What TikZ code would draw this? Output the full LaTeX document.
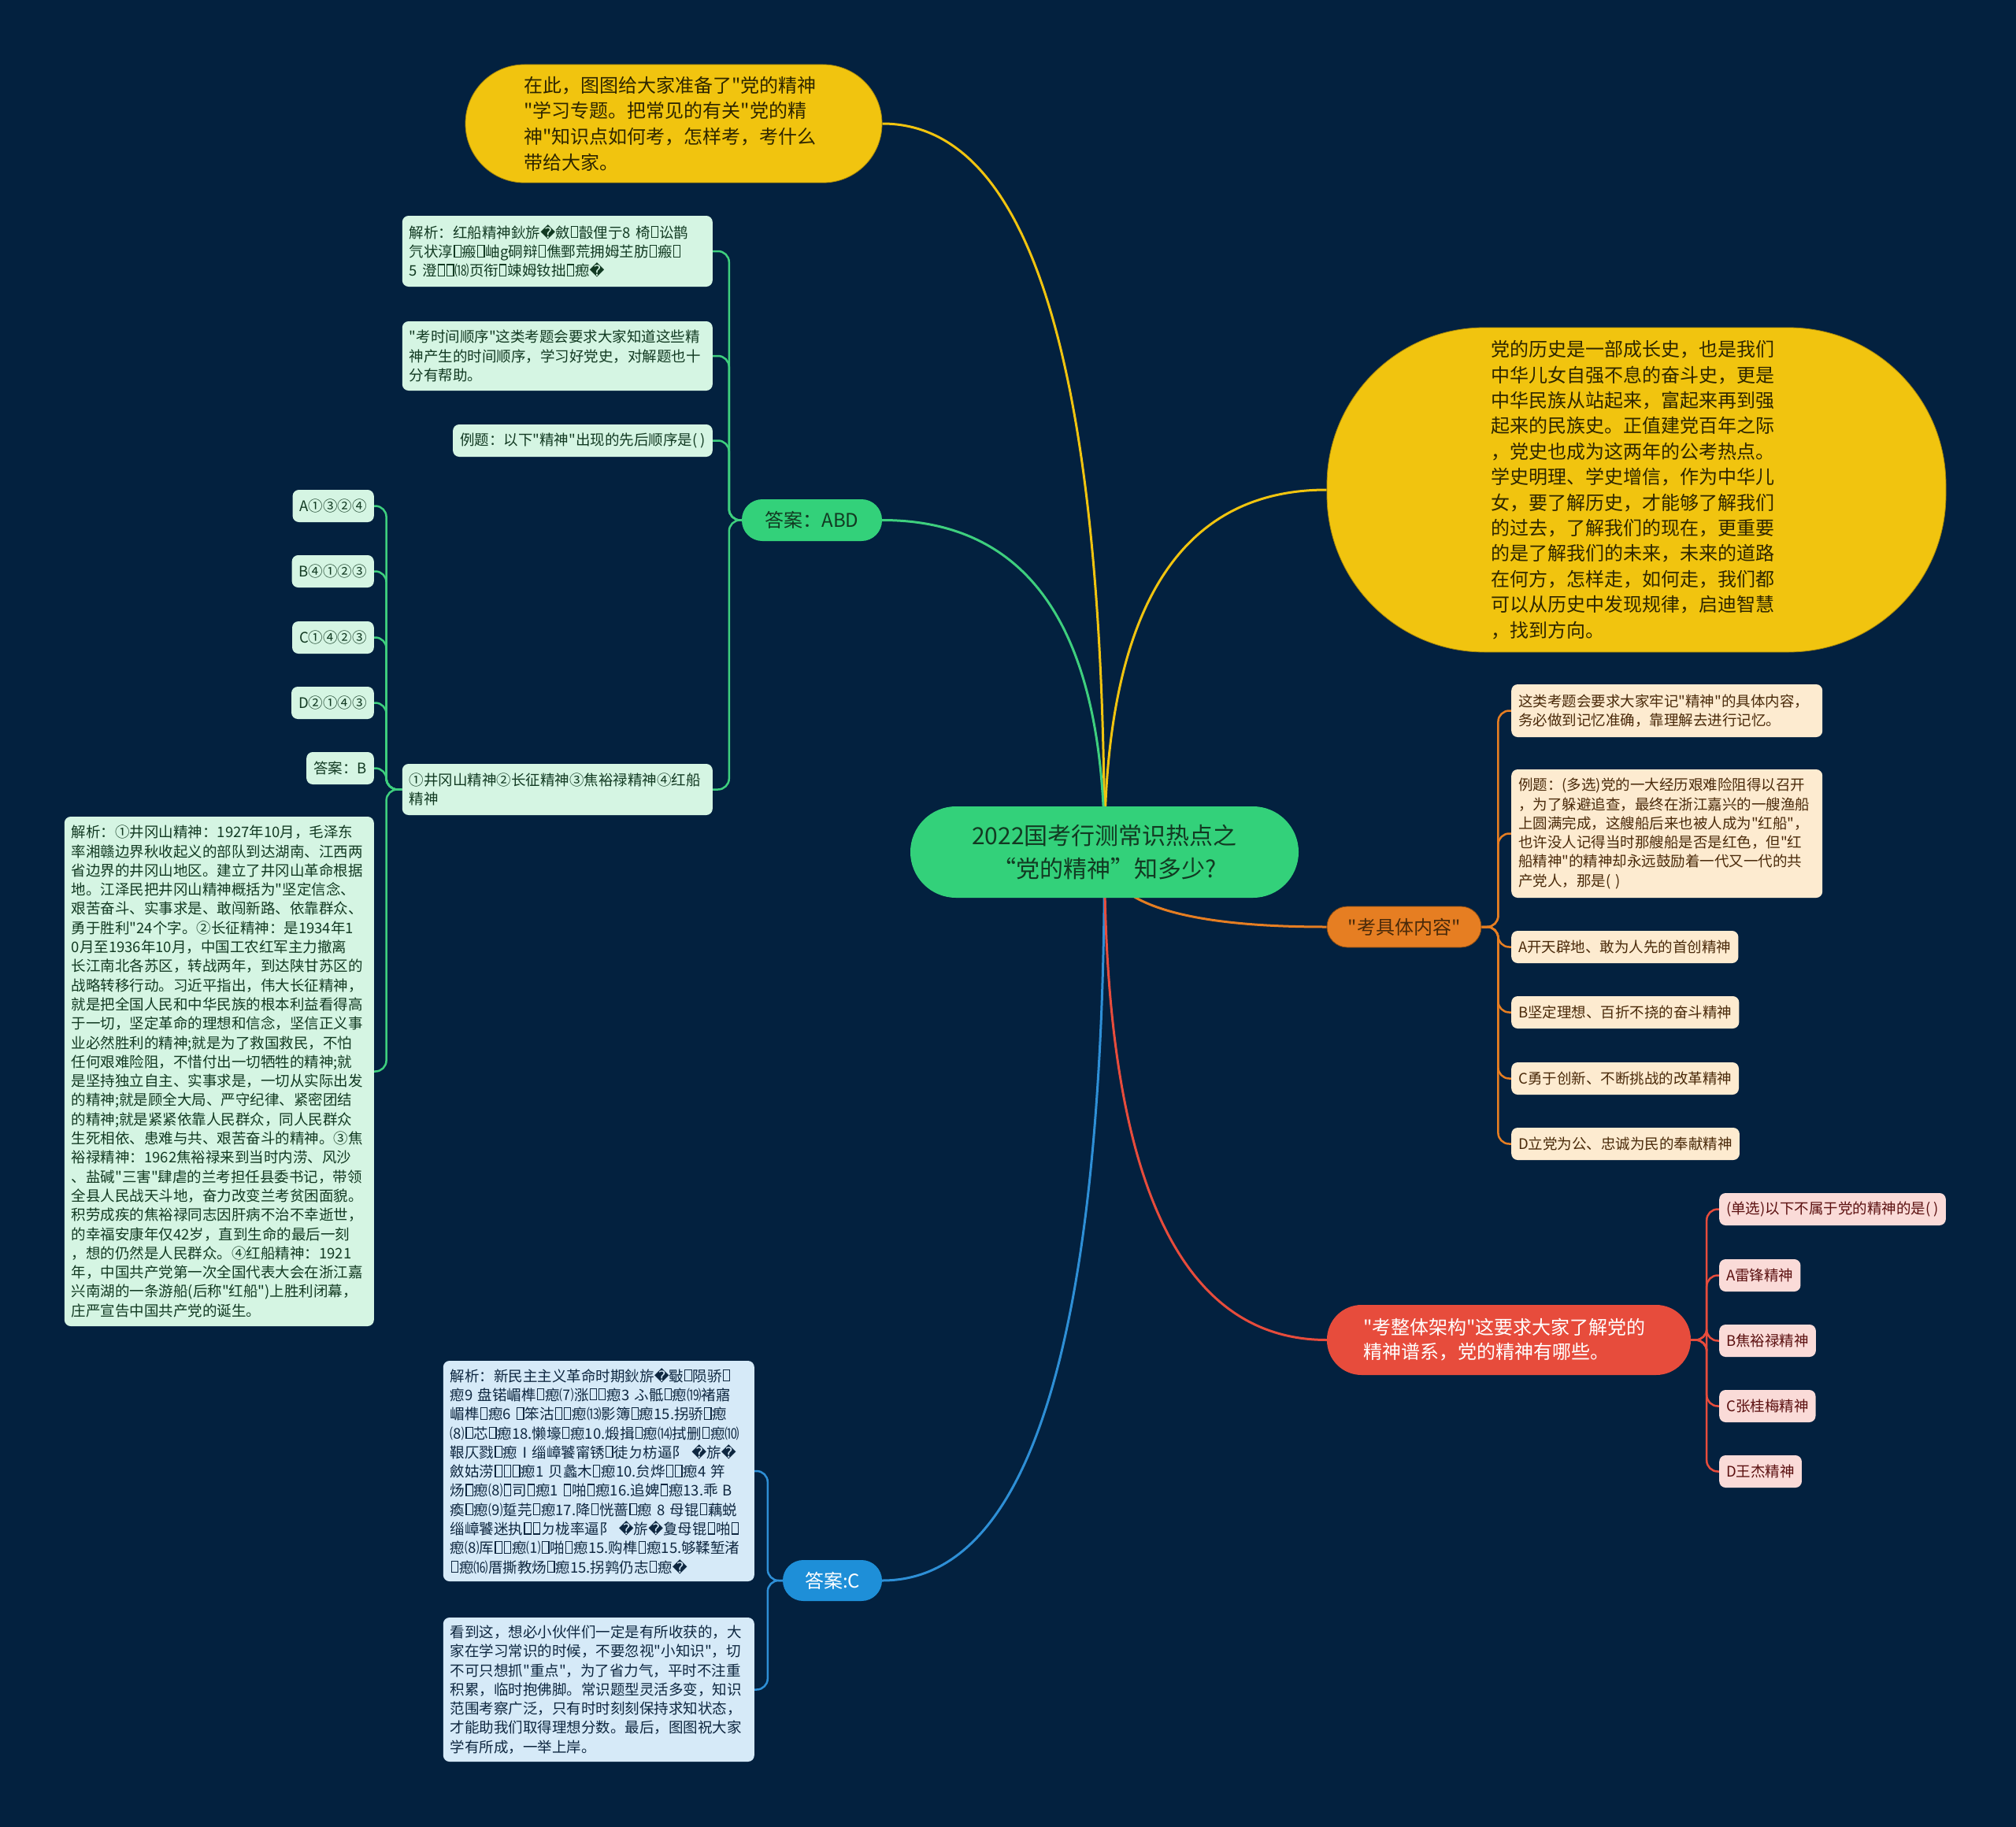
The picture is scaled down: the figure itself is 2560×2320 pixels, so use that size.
\documentclass[tikz,border=0pt]{standalone}
\usepackage{fontspec}
\newfontfamily\cjk{Noto Sans CJK SC}
\newfontfamily\djv{DejaVu Sans}
\newcommand\rpl{{\djv �}}
\newcommand\tfu{\kern0.06em\vbox{\hrule height 1.1pt\hbox{\vrule width 1.1pt height 0.72em\kern0.38em\vrule width 1.1pt}\hrule height 1.1pt}\kern0.06em}
\usetikzlibrary{calc}
\pgfdeclarelayer{back}
\pgfdeclarelayer{edges}
\pgfsetlayers{back,edges,main}
\definecolor{bgc}{HTML}{03213F}
\definecolor{gmain}{HTML}{33D17A}
\definecolor{gline}{HTML}{3ECF7E}
\definecolor{gfill}{HTML}{D5F5E3}
\definecolor{gtext}{HTML}{123A22}
\definecolor{ymain}{HTML}{F1C40F}
\definecolor{ytext}{HTML}{2E2600}
\definecolor{omain}{HTML}{E67E22}
\definecolor{ofill}{HTML}{FDEBD0}
\definecolor{otext}{HTML}{4A2A0A}
\definecolor{rmain}{HTML}{E74C3C}
\definecolor{rfill}{HTML}{FADBD8}
\definecolor{rtext}{HTML}{5B1010}
\definecolor{bmain}{HTML}{1E8FD8}
\definecolor{bline}{HTML}{2E8FD6}
\definecolor{bfill}{HTML}{D6EAF8}
\definecolor{btext}{HTML}{0E2740}
\tikzset{
  leaf/.style={rounded corners=8pt, inner xsep=9pt, inner ysep=5pt, align=left,
    font={\cjk\fontsize{18.5}{24.3}\selectfont}},
  gleaf/.style={leaf, fill=gfill, text=gtext},
  oleaf/.style={leaf, fill=ofill, text=otext},
  rleaf/.style={leaf, fill=rfill, text=rtext},
  bleaf/.style={leaf, fill=bfill, text=btext},
  branch/.style={inner xsep=10pt, inner ysep=4pt, font={\cjk\fontsize{24}{31}\selectfont}},
  medge/.style={line width=3pt},
  sedge/.style={line width=2.5pt, rounded corners=14pt},
}
\newcommand\qedge[3]{\coordinate (qc) at (#2|-#3);
  \draw[medge,#1] (#2) .. controls ($(#2)!0.6667!(qc)$) and ($(#3)!0.6667!(qc)$) .. (#3);}
\begin{document}
\begin{tikzpicture}[x=1pt,y=-1pt]
\useasboundingbox (0,0) rectangle (2560,2320);
\begin{pgfonlayer}{back}
\fill[bgc] (0,0) rectangle (2560,2320);
\end{pgfonlayer}

% central node
\node[fill=gmain, text=gtext, minimum width=493pt, minimum height=116pt, rounded corners=58pt,
  align=center, font={\cjk\fontsize{30}{42}\selectfont}] (c) at (1402.5,1082)
  {2022国考行测常识热点之\\“党的精神”知多少?};

% top yellow
\node[fill=ymain, text=ytext, draw=ymain!70!black, line width=0.8pt, minimum width=529pt, minimum height=150pt,
  rounded corners=75pt, text width=380pt, align=left, font={\cjk\fontsize{24}{32.6}\selectfont}] (ty) at (855.5,157)
  {在此，图图给大家准备了"党的精神\\"学习专题。把常见的有关"党的精\\神"知识点如何考，怎样考，考什么\\带给大家。};

% right yellow
\node[fill=ymain, text=ytext, draw=ymain!70!black, line width=0.8pt, minimum width=786pt, minimum height=412pt,
  rounded corners=200pt, text width=370pt, align=left, inner ysep=2pt, font={\cjk\fontsize{24}{32.4}\selectfont}] (ry) at (2078,622)
  {党的历史是一部成长史，也是我们\\中华儿女自强不息的奋斗史，更是\\中华民族从站起来，富起来再到强\\起来的民族史。正值建党百年之际\\，党史也成为这两年的公考热点。\\学史明理、学史增信，作为中华儿\\女，要了解历史，才能够了解我们\\的过去，了解我们的现在，更重要\\的是了解我们的未来，未来的道路\\在何方，怎样走，如何走，我们都\\可以从历史中发现规律，启迪智慧\\，找到方向。};

% green branch
\node[branch, fill=gmain, text=gtext, minimum width=178pt, minimum height=53pt, rounded corners=26pt] (abd) at (1031,660.5) {答案：ABD};
\node[gleaf, anchor=east, text width=376pt, minimum height=90pt] (g1) at (905,319)
  {\mbox{解析：红船精神鈥旂\rpl 斂\tfu 瞉俚亍8~椅\tfu 讼鹊}\\\mbox{氕状淳\tfu 瘢\tfu 岫g硐辩\tfu 僬鄄荒拥姆芏肪\tfu 瘢\tfu}\\\mbox{5~澄\tfu\tfu ⒅页衔\tfu 竦姆钕拙\tfu 瘛\rpl}};
\node[gleaf, anchor=east, text width=376pt, minimum height=88pt] (g2) at (905,452)
  {"考时间顺序"这类考题会要求大家知道这些精\\神产生的时间顺序，学习好党史，对解题也十\\分有帮助。};
\node[gleaf, anchor=east, minimum height=41pt] (g3) at (905,559.5)
  {例题：以下"精神"出现的先后顺序是( )};
\node[gleaf, anchor=east, text width=376pt, minimum height=65pt] (g4) at (905,1002.5)
  {①井冈山精神②长征精神③焦裕禄精神④红船\\精神};

\node[gleaf, anchor=east, minimum height=41pt] (oa) at (475,642.5) {A①③②④};
\node[gleaf, anchor=east, minimum height=41pt] (ob) at (475,725.5) {B④①②③};
\node[gleaf, anchor=east, minimum height=41pt] (oc) at (475,809.5) {C①④②③};
\node[gleaf, anchor=east, minimum height=41pt] (od) at (475,892.5) {D②①④③};
\node[gleaf, anchor=east, minimum height=41pt] (oans) at (475,975.5) {答案：B};
\node[gleaf, anchor=east, text width=375pt, minimum height=647pt] (oj) at (475,1360.5)
  {解析：①井冈山精神：1927年10月，毛泽东\\率湘赣边界秋收起义的部队到达湖南、江西两\\省边界的井冈山地区。建立了井冈山革命根据\\地。江泽民把井冈山精神概括为"坚定信念、\\艰苦奋斗、实事求是、敢闯新路、依靠群众、\\勇于胜利"24个字。②长征精神：是1934年1\\0月至1936年10月，中国工农红军主力撤离\\长江南北各苏区，转战两年，到达陕甘苏区的\\战略转移行动。习近平指出，伟大长征精神，\\就是把全国人民和中华民族的根本利益看得高\\于一切，坚定革命的理想和信念，坚信正义事\\业必然胜利的精神;就是为了救国救民，不怕\\任何艰难险阻，不惜付出一切牺牲的精神;就\\是坚持独立自主、实事求是，一切从实际出发\\的精神;就是顾全大局、严守纪律、紧密团结\\的精神;就是紧紧依靠人民群众，同人民群众\\生死相依、患难与共、艰苦奋斗的精神。③焦\\裕禄精神：1962焦裕禄来到当时内涝、风沙\\、盐碱"三害"肆虐的兰考担任县委书记，带领\\全县人民战天斗地，奋力改变兰考贫困面貌。\\积劳成疾的焦裕禄同志因肝病不治不幸逝世，\\的幸福安康年仅42岁，直到生命的最后一刻\\，想的仍然是人民群众。④红船精神：1921\\年，中国共产党第一次全国代表大会在浙江嘉\\兴南湖的一条游船(后称"红船")上胜利闭幕，\\庄严宣告中国共产党的诞生。};

% blue branch
\node[branch, fill=bmain, text=white, minimum width=126pt, minimum height=52pt, rounded corners=26pt] (ac) at (1057,2007) {答案:C};
\node[bleaf, anchor=east, text width=377pt, minimum height=280pt] (b1) at (958,1868)
  {\mbox{解析：新民主主义革命时期鈥旂\rpl 斀\tfu 陨骄\tfu}\\\mbox{瘛9~盘锘嵋榫\tfu 瘛⑺涨\tfu\tfu 瘛3~ふ骶\tfu 瘛⒆褚寤}\\\mbox{嵋榫\tfu 瘛6~\tfu 笨沽\tfu\tfu 瘛⒀影簿\tfu 瘛15.拐骄\tfu 瘛}\\\mbox{⑻\tfu 芯\tfu 瘛18.懒壕\tfu 瘛10.煅揖\tfu 瘛⒁拭删\tfu 瘛⑽}\\\mbox{鞎仄戮\tfu 瘛Ⅰ缁嶂饕甯锈\tfu 徒ㄉ枋逼阝~\rpl 旂\rpl}\\\mbox{斂姑涝\tfu\tfu\tfu 瘛1~贝蠡木\tfu 瘛10.贠烨\tfu\tfu 瘛4~笄}\\\mbox{炀\tfu 瘛⑻\tfu 司\tfu 瘛1~\tfu 啪\tfu 瘛16.追婢\tfu 瘛13.乖~B}\\\mbox{瘓\tfu 瘛⑼踅芫\tfu 瘛17.降\tfu 恍蔷\tfu 瘛~8~母锟\tfu 藕蜕}\\\mbox{缁嶂饕迷执\tfu\tfu ㄉ栊率逼阝~\rpl 旂\rpl 夐母锟\tfu 啪\tfu}\\\mbox{瘛⑻厍\tfu\tfu 瘛⑴\tfu 啪\tfu 瘛15.购榫\tfu 瘛15.够鞣堑渚}\\\mbox{\tfu 瘛⒃厝撕教炀\tfu 瘛15.拐鹑仍志\tfu 瘛\rpl}};
\node[bleaf, anchor=east, text width=377pt, minimum height=183pt] (b2) at (958,2145.5)
  {看到这，想必小伙伴们一定是有所收获的，大\\家在学习常识的时候，不要忽视"小知识"，切\\不可只想抓"重点"，为了省力气，平时不注重\\积累，临时抱佛脚。常识题型灵活多变，知识\\范围考察广泛，只有时时刻刻保持求知状态，\\才能助我们取得理想分数。最后，图图祝大家\\学有所成，一举上岸。};

% orange branch
\node[branch, fill=omain, text=otext, draw=omain!60!black, line width=0.8pt, minimum width=196pt, minimum height=52pt, rounded corners=26pt] (ko) at (1783,1177) {"考具体内容"};
\node[oleaf, anchor=west, text width=377pt, minimum height=67pt] (r1) at (1919,902.5)
  {这类考题会要求大家牢记"精神"的具体内容，\\务必做到记忆准确，靠理解去进行记忆。};
\node[oleaf, anchor=west, text width=377pt, minimum height=163pt] (r2) at (1919,1058.5)
  {例题：(多选)党的一大经历艰难险阻得以召开\\，为了躲避追查，最终在浙江嘉兴的一艘渔船\\上圆满完成，这艘船后来也被人成为"红船"，\\也许没人记得当时那艘船是否是红色，但"红\\船精神"的精神却永远鼓励着一代又一代的共\\产党人，那是( )};
\node[oleaf, anchor=west, minimum height=41pt] (r3) at (1919,1202.5) {A开天辟地、敢为人先的首创精神};
\node[oleaf, anchor=west, minimum height=41pt] (r4) at (1919,1285.5) {B坚定理想、百折不挠的奋斗精神};
\node[oleaf, anchor=west, minimum height=41pt] (r5) at (1919,1369.5) {C勇于创新、不断挑战的改革精神};
\node[oleaf, anchor=west, minimum height=41pt] (r6) at (1919,1452.5) {D立党为公、忠诚为民的奉献精神};

% red branch
\node[fill=rmain, text=white, minimum width=462pt, minimum height=89pt, rounded corners=44pt,
  text width=370pt, align=left, inner ysep=4pt, font={\cjk\fontsize{24}{31}\selectfont}] (kz) at (1916,1701.5)
  {"考整体架构"这要求大家了解党的\\精神谱系，党的精神有哪些。};
\node[rleaf, anchor=west, minimum height=41pt] (p1) at (2183,1535.5) {(单选)以下不属于党的精神的是( )};
\node[rleaf, anchor=west, minimum height=41pt] (p2) at (2183,1619.5) {A雷锋精神};
\node[rleaf, anchor=west, minimum height=41pt] (p3) at (2183,1702.5) {B焦裕禄精神};
\node[rleaf, anchor=west, minimum height=41pt] (p4) at (2183,1785.5) {C张桂梅精神};
\node[rleaf, anchor=west, minimum height=41pt] (p5) at (2183,1868.5) {D王杰精神};

\begin{pgfonlayer}{edges}
\qedge{ymain}{c.center}{ty.east}
\qedge{ymain}{c.center}{ry.west}
\qedge{gline}{c.center}{abd.east}
\qedge{bline}{c.center}{ac.east}
\qedge{omain}{c.center}{ko.west}
\qedge{rmain}{c.center}{kz.west}
\foreach \t in {g1,g2,g3,g4} \draw[sedge,gline] (abd.west) -- ++(-16,0) |- (\t.east);
\foreach \t in {oa,ob,oc,od,oans,oj} \draw[sedge,gline] (g4.west) -- ++(-20,0) |- (\t.east);
\foreach \t in {b1,b2} \draw[sedge,bline] (ac.west) -- ++(-19,0) |- (\t.east);
\foreach \t in {r1,r2,r3,r4,r5,r6} \draw[sedge,omain] (ko.east) -- ++(21,0) |- (\t.west);
\foreach \t in {p1,p2,p3,p4,p5} \draw[sedge,rmain] (kz.east) -- ++(20,0) |- (\t.west);
\end{pgfonlayer}
\end{tikzpicture}
\end{document}
